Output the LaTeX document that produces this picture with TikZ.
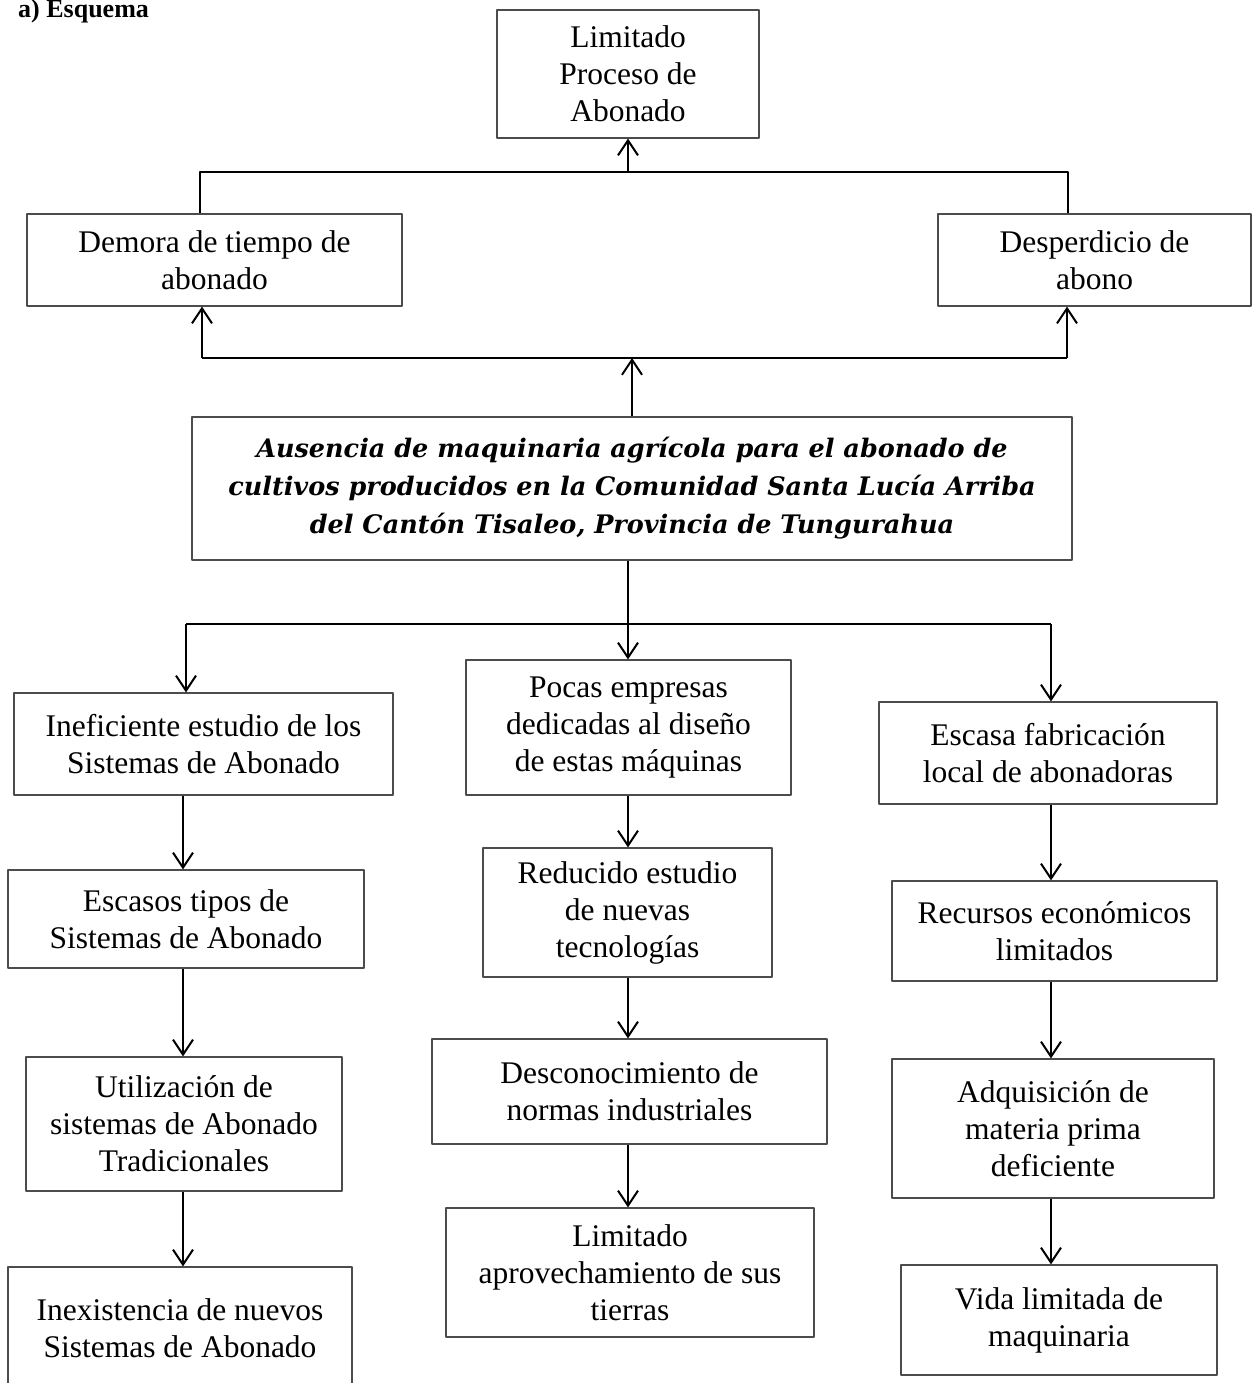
\documentclass[tikz,border=0pt]{standalone}
\usepackage{fontspec}
\setmainfont{Liberation Serif}
\newfontfamily\probfont{DejaVu Serif}
\usetikzlibrary{arrows.meta}

\begin{document}
\begin{tikzpicture}[x=1pt,y=-1pt,>={Straight Barb[length=15pt,width=20pt]}, line join=round,
	caja/.style 2 args={draw=black!70,line width=1.2pt,minimum width=#1,minimum height=#2,inner sep=0pt,align=center,font=\fontsize{31.5}{37}\selectfont},
	flecha/.style={line width=2pt}]
	\useasboundingbox (0,0) rectangle (1257,1383);
	\clip (0,0) rectangle (1257,1383);
	\node[anchor=base west,font=\bfseries\fontsize{26}{30}\selectfont,inner sep=0pt] (tit) at (18,18) {a) Esquema};
	% efectos
	\node[caja={262}{128}] (lim) at (628,74) {Limitado\\Proceso de\\Abonado};
	\node[caja={375}{92}] (dem) at (214.5,260) {Demora de tiempo de\\abonado};
	\node[caja={313}{92}] (des) at (1094.5,260) {Desperdicio de\\abono};
	% problema
	\node[caja={880}{143},font=\probfont\bfseries\itshape\fontsize{25.5}{38}\selectfont] (prob) at (632,488.5)
		{Ausencia de maquinaria agrícola para el abonado de\\cultivos producidos en la Comunidad Santa Lucía Arriba\\del Cantón Tisaleo, Provincia de Tungurahua};
	% causas
	\node[caja={379}{102}] (ine) at (203.5,744) {Ineficiente estudio de los\\Sistemas de Abonado};
	\node[caja={356}{98}] (esc) at (186,919) {Escasos tipos de\\Sistemas de Abonado};
	\node[caja={316}{134}] (uti) at (184,1124) {Utilización de\\sistemas de Abonado\\Tradicionales};
	\node[caja={344}{122}] (inx) at (180,1328) {Inexistencia de nuevos\\Sistemas de Abonado};
	\node[caja={325}{135}] (poc) at (628.5,727.5) {Pocas empresas\\dedicadas al diseño\\de estas máquinas};
	\node[caja={289}{129}] (red) at (627.5,912.5) {Reducido estudio\\de nuevas\\tecnologías};
	\node[caja={395}{105}] (dco) at (629.5,1091.5) {Desconocimiento de\\normas industriales};
	\node[caja={368}{129}] (lap) at (630,1272.5) {Limitado\\aprovechamiento de sus\\tierras};
	\node[caja={338}{102}] (esa) at (1048,753) {Escasa fabricación\\local de abonadoras};
	\node[caja={325}{100}] (rec) at (1054.5,931) {Recursos económicos\\limitados};
	\node[caja={322}{139}] (adq) at (1053,1128.5) {Adquisición de\\materia prima\\deficiente};
	\node[caja={316}{110}] (vid) at (1059,1320) {Vida limitada de\\maquinaria};
	% puntos de las lineas
	\coordinate (tL) at (200,172); \coordinate (tR) at (1068,172);
	\coordinate (bL) at (202,358); \coordinate (bR) at (1067,358);
	\coordinate (rL) at (186,624); \coordinate (rR) at (1051,624);
	\coordinate (cL) at (183,0); \coordinate (cM) at (628,0); \coordinate (cR) at (1051,0);
	% conexiones arriba
	\draw[flecha] (dem.north -| tL) -- (tL) -- (tR) -- (des.north -| tR);
	\draw[flecha,->] (tL -| lim.south) -- (lim.south);
	\draw[flecha] (bL) -- (bR);
	\draw[flecha,->] (bL) -- (dem.south -| bL);
	\draw[flecha,->] (bR) -- (des.south -| bR);
	\draw[flecha,->] (prob.north) -- (prob.north |- bL);
	% conexiones abajo
	\draw[flecha] (prob.south -| cM) -- (rL -| cM);
	\draw[flecha] (rL) -- (rR);
	\draw[flecha,->] (rL) -- (ine.north -| rL);
	\draw[flecha,->] (rL -| cM) -- (poc.north -| cM);
	\draw[flecha,->] (rR) -- (esa.north -| rR);
	\foreach \a/\b in {ine/esc,esc/uti,uti/inx}
		\draw[flecha,->] (\a.south -| cL) -- (\b.north -| cL);
	\foreach \a/\b in {poc/red,red/dco,dco/lap}
		\draw[flecha,->] (\a.south -| cM) -- (\b.north -| cM);
	\foreach \a/\b in {esa/rec,rec/adq,adq/vid}
		\draw[flecha,->] (\a.south -| cR) -- (\b.north -| cR);
\end{tikzpicture}
\end{document}
